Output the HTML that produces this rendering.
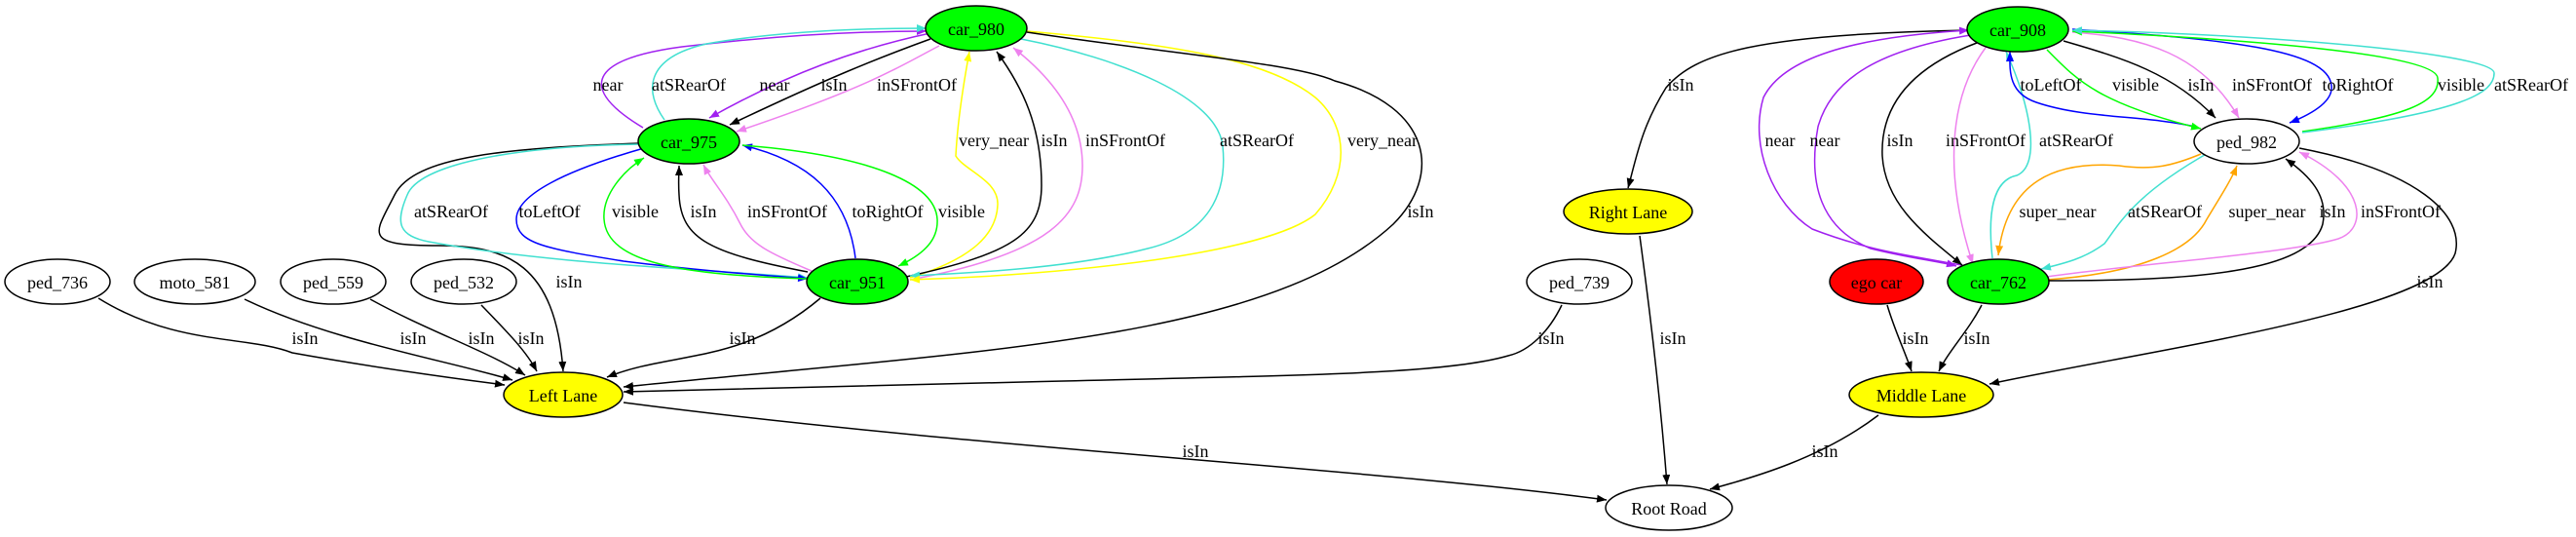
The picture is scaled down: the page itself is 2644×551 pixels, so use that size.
<!DOCTYPE html>
<html><head><meta charset="utf-8"><style>
html,body{margin:0;padding:0;background:#fff;}
svg{display:block;}
text{font-family:"Liberation Serif",serif;font-size:18px;fill:#000;}
</style></head><body>
<svg width="2644" height="551" viewBox="0 0 2644 551" xmlns="http://www.w3.org/2000/svg">
<defs>
<marker id="k" viewBox="0 0 10 8" refX="10" refY="4" markerWidth="10" markerHeight="8" markerUnits="userSpaceOnUse" orient="auto"><path d="M0,0L10,4L0,8z" fill="#000"/></marker>
<marker id="p" viewBox="0 0 10 8" refX="10" refY="4" markerWidth="10" markerHeight="8" markerUnits="userSpaceOnUse" orient="auto"><path d="M0,0L10,4L0,8z" fill="#a020f0"/></marker>
<marker id="c" viewBox="0 0 10 8" refX="10" refY="4" markerWidth="10" markerHeight="8" markerUnits="userSpaceOnUse" orient="auto"><path d="M0,0L10,4L0,8z" fill="#40e0d0"/></marker>
<marker id="v" viewBox="0 0 10 8" refX="10" refY="4" markerWidth="10" markerHeight="8" markerUnits="userSpaceOnUse" orient="auto"><path d="M0,0L10,4L0,8z" fill="#ee82ee"/></marker>
<marker id="b" viewBox="0 0 10 8" refX="10" refY="4" markerWidth="10" markerHeight="8" markerUnits="userSpaceOnUse" orient="auto"><path d="M0,0L10,4L0,8z" fill="#0000ff"/></marker>
<marker id="g" viewBox="0 0 10 8" refX="10" refY="4" markerWidth="10" markerHeight="8" markerUnits="userSpaceOnUse" orient="auto"><path d="M0,0L10,4L0,8z" fill="#00ff00"/></marker>
<marker id="y" viewBox="0 0 10 8" refX="10" refY="4" markerWidth="10" markerHeight="8" markerUnits="userSpaceOnUse" orient="auto"><path d="M0,0L10,4L0,8z" fill="#ffff00"/></marker>
<marker id="o" viewBox="0 0 10 8" refX="10" refY="4" markerWidth="10" markerHeight="8" markerUnits="userSpaceOnUse" orient="auto"><path d="M0,0L10,4L0,8z" fill="#ffa500"/></marker>
</defs>
<g fill="none" stroke-width="1.5">
<!-- left cluster -->
<path d="M660,131 C600,95 595,62 700,48 C800,36 880,32 951,32" stroke="#a020f0" marker-end="url(#p)"/>
<path d="M682,123 C662,95 660,60 725,45 C800,32 880,29 951,29" stroke="#40e0d0" marker-end="url(#c)"/>
<path d="M955,34 C880,50 810,75 728,121" stroke="#a020f0" marker-end="url(#p)"/>
<path d="M955,40 C900,60 850,80 749,128" stroke="#000" marker-end="url(#k)"/>
<path d="M964,47 C920,70 890,90 756,135" stroke="#ee82ee" marker-end="url(#v)"/>
<path d="M657,147 C520,152 425,160 405,200 C385,240 370,252 450,252 C520,252 570,270 578,381" stroke="#000" marker-end="url(#k)"/>
<path d="M657,148 C520,150 430,170 418,200 C405,230 410,242 440,248 C560,270 700,275 829,285" stroke="#40e0d0" marker-end="url(#c)"/>
<path d="M661,152 C580,175 530,200 530,225 C530,250 560,255 640,268 C720,278 780,282 829,286" stroke="#0000ff" marker-end="url(#b)"/>
<path d="M829,286 C700,282 623,270 620,225 C618,200 640,175 661,162" stroke="#00ff00" marker-end="url(#g)"/>
<path d="M829,279 C730,260 699,246 697,200 C696,185 697,178 697,170" stroke="#000" marker-end="url(#k)"/>
<path d="M833,278 C790,260 770,250 760,230 C745,200 730,185 722,169" stroke="#ee82ee" marker-end="url(#v)"/>
<path d="M878,265 C870,200 830,165 762,149" stroke="#0000ff" marker-end="url(#b)"/>
<path d="M762,149 C900,160 960,190 962,225 C963,245 950,260 922,273" stroke="#00ff00" marker-end="url(#g)"/>
<path d="M934,285 C1000,265 1023,239 1024,210 C1025,185 990,175 981,160 C983,120 990,80 995,53" stroke="#ffff00" marker-end="url(#y)"/>
<path d="M930,284 C1040,260 1069,240 1069,190 C1069,130 1050,90 1023,53" stroke="#000" marker-end="url(#k)"/>
<path d="M934,287 C1080,260 1111,220 1111,170 C1111,120 1080,80 1040,49" stroke="#ee82ee" marker-end="url(#v)"/>
<path d="M1048,40 C1150,60 1250,100 1255,150 C1260,200 1240,240 1178,255 C1100,275 1000,280 934,283" stroke="#40e0d0" marker-end="url(#c)"/>
<path d="M1054,32 C1200,45 1300,60 1350,100 C1385,130 1385,180 1350,220 C1300,260 1100,282 934,287" stroke="#ffff00" marker-end="url(#y)"/>
<path d="M1054,33 C1200,55 1330,65 1370,83 C1470,110 1480,180 1430,230 C1300,350 1000,360 640,397" stroke="#000" marker-end="url(#k)"/>
<path d="M842,306 C760,375 690,360 623,387" stroke="#000" marker-end="url(#k)"/>
<path d="M101,306 C180,355 253,344 300,362 C400,380 480,390 518,395" stroke="#000" marker-end="url(#k)"/>
<path d="M251,307 C340,350 460,370 526,390" stroke="#000" marker-end="url(#k)"/>
<path d="M380,307 C440,340 500,360 539,385" stroke="#000" marker-end="url(#k)"/>
<path d="M494,313 C520,340 540,360 551,381" stroke="#000" marker-end="url(#k)"/>
<path d="M1603,313 C1590,340 1570,360 1548,365 C1480,385 1320,385 1050,392 C900,396 750,400 640,402" stroke="#000" marker-end="url(#k)"/>
<path d="M640,413 C1000,460 1400,480 1649,513" stroke="#000" marker-end="url(#k)"/>
<!-- right cluster -->
<path d="M2021,31 C1800,35 1740,55 1710,90 C1685,130 1680,160 1671,193" stroke="#000" marker-end="url(#k)"/>
<path d="M1683,242 C1695,330 1705,420 1711,497" stroke="#000" marker-end="url(#k)"/>
<path d="M1937,313 C1945,340 1955,360 1962,381" stroke="#000" marker-end="url(#k)"/>
<path d="M2034,313 C2020,340 2000,360 1990,381" stroke="#000" marker-end="url(#k)"/>
<path d="M1928,426 C1870,470 1800,490 1755,502" stroke="#000" marker-end="url(#k)"/>
<path d="M2360,152 C2480,175 2530,220 2520,260 C2500,320 2200,360 2042,394" stroke="#000" marker-end="url(#k)"/>
<path d="M2013,272 C1960,262 1920,258 1860,235 C1820,210 1795,150 1810,100 C1830,60 1900,38 2021,31" stroke="#a020f0" marker-end="url(#p)"/>
<path d="M2029,35 C1930,50 1880,80 1866,130 C1855,190 1870,235 1920,255 C1960,265 1990,268 2008,273" stroke="#a020f0" marker-end="url(#p)"/>
<path d="M2029,44 C1960,70 1930,110 1932,160 C1935,210 1975,240 2014,272" stroke="#000" marker-end="url(#k)"/>
<path d="M2038,49 C2000,100 1995,180 2025,271" stroke="#ee82ee" marker-end="url(#v)"/>
<path d="M2045,265 C2040,220 2045,185 2070,180 C2095,170 2085,110 2059,53" stroke="#40e0d0" marker-end="url(#c)"/>
<path d="M2253,130 C2200,118 2140,122 2090,105 C2060,95 2063,70 2063,53" stroke="#0000ff" marker-end="url(#b)"/>
<path d="M2101,51 C2130,80 2150,105 2259,132" stroke="#00ff00" marker-end="url(#g)"/>
<path d="M2118,42 C2180,60 2230,75 2274,121" stroke="#000" marker-end="url(#k)"/>
<path d="M2127,33 C2200,38 2260,55 2298,121" stroke="#ee82ee" marker-end="url(#v)"/>
<path d="M2127,30 C2280,40 2390,50 2393,88 C2395,105 2370,118 2350,126" stroke="#0000ff" marker-end="url(#b)"/>
<path d="M2363,135 C2470,120 2505,105 2502,80 C2500,55 2300,40 2127,32" stroke="#00ff00" marker-end="url(#g)"/>
<path d="M2363,136 C2530,115 2560,95 2560,75 C2560,55 2330,35 2127,31" stroke="#40e0d0" marker-end="url(#c)"/>
<path d="M2259,158 C2230,170 2210,175 2175,170 C2110,165 2060,185 2051,262" stroke="#ffa500" marker-end="url(#o)"/>
<path d="M2268,156 C2190,200 2175,230 2160,250 C2140,265 2120,270 2095,276" stroke="#40e0d0" marker-end="url(#c)"/>
<path d="M2101,287 C2200,280 2250,255 2265,225 C2280,200 2290,185 2296,170" stroke="#ffa500" marker-end="url(#o)"/>
<path d="M2101,288 C2250,288 2370,280 2384,230 C2390,200 2370,180 2346,163" stroke="#000" marker-end="url(#k)"/>
<path d="M2101,284 C2200,270 2350,260 2400,245 C2430,235 2430,190 2360,156" stroke="#ee82ee" marker-end="url(#v)"/>
</g>
<!-- nodes -->
<g stroke="#000" stroke-width="1.5">
<ellipse cx="1002" cy="29" rx="52" ry="23" fill="#00ff00"/>
<ellipse cx="707" cy="145" rx="52" ry="23" fill="#00ff00"/>
<ellipse cx="880" cy="289" rx="52" ry="23" fill="#00ff00"/>
<ellipse cx="59" cy="289" rx="54" ry="23" fill="#fff"/>
<ellipse cx="200" cy="289" rx="62" ry="23" fill="#fff"/>
<ellipse cx="342" cy="289" rx="54" ry="23" fill="#fff"/>
<ellipse cx="476" cy="289" rx="54" ry="23" fill="#fff"/>
<ellipse cx="578" cy="405" rx="61" ry="23" fill="#ffff00"/>
<ellipse cx="2071" cy="30" rx="52" ry="23" fill="#00ff00"/>
<ellipse cx="1671" cy="217" rx="66" ry="23" fill="#ffff00"/>
<ellipse cx="1621" cy="289" rx="54" ry="23" fill="#fff"/>
<ellipse cx="1926" cy="289" rx="48" ry="23" fill="#ff0000"/>
<ellipse cx="2051" cy="289" rx="52" ry="23" fill="#00ff00"/>
<ellipse cx="2306" cy="145" rx="54" ry="23" fill="#fff"/>
<ellipse cx="1972" cy="405" rx="74" ry="23" fill="#ffff00"/>
<ellipse cx="1713" cy="521" rx="65" ry="23" fill="#fff"/>
</g>
<g text-anchor="middle" dominant-baseline="central">
<text x="1002" y="30">car_980</text>
<text x="707" y="146">car_975</text>
<text x="880" y="290">car_951</text>
<text x="59" y="290">ped_736</text>
<text x="200" y="290">moto_581</text>
<text x="342" y="290">ped_559</text>
<text x="476" y="290">ped_532</text>
<text x="578" y="406">Left Lane</text>
<text x="2071" y="31">car_908</text>
<text x="1671" y="218">Right Lane</text>
<text x="1621" y="290">ped_739</text>
<text x="1926" y="290">ego car</text>
<text x="2051" y="290">car_762</text>
<text x="2306" y="146">ped_982</text>
<text x="1972" y="406">Middle Lane</text>
<text x="1713" y="522">Root Road</text>
<!-- edge labels -->
<text x="624" y="87">near</text>
<text x="707" y="87">atSRearOf</text>
<text x="795" y="87">near</text>
<text x="856" y="87">isIn</text>
<text x="941" y="87">inSFrontOf</text>
<text x="463" y="217">atSRearOf</text>
<text x="564" y="217">toLeftOf</text>
<text x="652" y="217">visible</text>
<text x="722" y="217">isIn</text>
<text x="808" y="217">inSFrontOf</text>
<text x="911" y="217">toRightOf</text>
<text x="987" y="217">visible</text>
<text x="1020" y="144">very_near</text>
<text x="1082" y="144">isIn</text>
<text x="1155" y="144">inSFrontOf</text>
<text x="1290" y="144">atSRearOf</text>
<text x="1419" y="144">very_near</text>
<text x="1458" y="217">isIn</text>
<text x="584" y="289">isIn</text>
<text x="762" y="347">isIn</text>
<text x="313" y="347">isIn</text>
<text x="424" y="347">isIn</text>
<text x="494" y="347">isIn</text>
<text x="545" y="347">isIn</text>
<text x="1592" y="347">isIn</text>
<text x="1227" y="463">isIn</text>
<text x="1725" y="87">isIn</text>
<text x="1717" y="347">isIn</text>
<text x="1966" y="347">isIn</text>
<text x="2029" y="347">isIn</text>
<text x="1873" y="463">isIn</text>
<text x="2494" y="289">isIn</text>
<text x="1827" y="144">near</text>
<text x="1873" y="144">near</text>
<text x="1950" y="144">isIn</text>
<text x="2038" y="144">inSFrontOf</text>
<text x="2131" y="144">atSRearOf</text>
<text x="2105" y="87">toLeftOf</text>
<text x="2192" y="87">visible</text>
<text x="2259" y="87">isIn</text>
<text x="2332" y="87">inSFrontOf</text>
<text x="2420" y="87">toRightOf</text>
<text x="2526" y="87">visible</text>
<text x="2598" y="87">atSRearOf</text>
<text x="2112" y="217">super_near</text>
<text x="2222" y="217">atSRearOf</text>
<text x="2327" y="217">super_near</text>
<text x="2394" y="217">isIn</text>
<text x="2464" y="217">inSFrontOf</text>
</g>
</svg>
</body></html>
